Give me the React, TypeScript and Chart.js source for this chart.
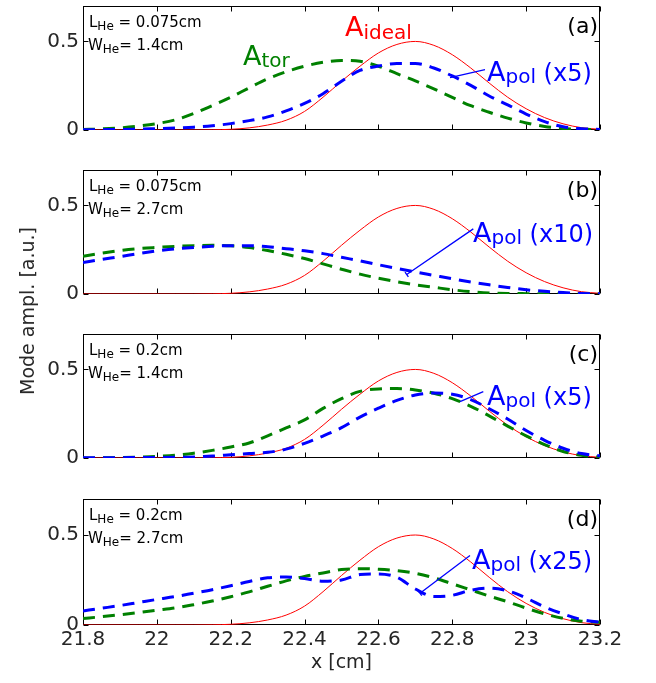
import React, { useEffect, useRef } from 'react';
import { Chart, registerables } from 'chart.js';
Chart.register(...registerables);

// ---------- data ----------
const xs = [21.8, 21.85, 21.9, 21.95, 22, 22.05, 22.1, 22.15, 22.2, 22.25, 22.3, 22.35, 22.4, 22.45, 22.5, 22.55, 22.6, 22.65, 22.7, 22.75, 22.8, 22.85, 22.9, 22.95, 23, 23.05, 23.1, 23.15, 23.2];

const aIdeal = [0, 0, 0, 0, 0, 0, 0, 0.001, 0.004, 0.012, 0.028, 0.055, 0.105, 0.185, 0.275, 0.36, 0.435, 0.483, 0.5, 0.478, 0.425, 0.35, 0.265, 0.185, 0.12, 0.07, 0.035, 0.013, 0.004];

const torA = [0.003, 0.006, 0.012, 0.022, 0.036, 0.057, 0.093, 0.138, 0.185, 0.238, 0.289, 0.329, 0.36, 0.382, 0.393, 0.388, 0.36, 0.318, 0.277, 0.232, 0.184, 0.137, 0.1, 0.067, 0.04, 0.02, 0.009, 0.004, 0.002];
const polA = [0.001, 0.002, 0.003, 0.005, 0.008, 0.011, 0.016, 0.024, 0.036, 0.053, 0.074, 0.108, 0.15, 0.205, 0.275, 0.336, 0.361, 0.375, 0.375, 0.35, 0.305, 0.252, 0.192, 0.142, 0.09, 0.047, 0.018, 0.007, 0.003];

const torB = [0.213, 0.23, 0.245, 0.256, 0.263, 0.269, 0.273, 0.275, 0.272, 0.262, 0.245, 0.224, 0.2, 0.17, 0.14, 0.112, 0.089, 0.069, 0.052, 0.038, 0.024, 0.013, 0.006, 0.003, 0.002, 0.001, 0.001, 0, 0];
const polB = [0.178, 0.195, 0.211, 0.228, 0.243, 0.255, 0.263, 0.269, 0.273, 0.273, 0.267, 0.256, 0.244, 0.228, 0.207, 0.187, 0.165, 0.144, 0.124, 0.105, 0.086, 0.068, 0.052, 0.037, 0.024, 0.015, 0.008, 0.003, 0.001];

const torC = [0, 0.001, 0.002, 0.005, 0.009, 0.016, 0.027, 0.043, 0.062, 0.085, 0.125, 0.17, 0.215, 0.28, 0.335, 0.376, 0.39, 0.392, 0.384, 0.366, 0.335, 0.292, 0.238, 0.18, 0.125, 0.076, 0.037, 0.015, 0.006];
const polC = [0.002, 0.002, 0.002, 0.003, 0.003, 0.004, 0.006, 0.011, 0.018, 0.025, 0.032, 0.05, 0.083, 0.124, 0.171, 0.231, 0.281, 0.325, 0.356, 0.367, 0.36, 0.33, 0.278, 0.22, 0.155, 0.1, 0.055, 0.025, 0.012];

const torD = [0.036, 0.046, 0.057, 0.069, 0.082, 0.095, 0.113, 0.133, 0.157, 0.184, 0.215, 0.245, 0.27, 0.289, 0.308, 0.313, 0.31, 0.302, 0.287, 0.262, 0.229, 0.195, 0.161, 0.129, 0.094, 0.062, 0.037, 0.021, 0.015];
const polD = [0.078, 0.093, 0.108, 0.125, 0.142, 0.158, 0.177, 0.196, 0.218, 0.242, 0.262, 0.267, 0.258, 0.243, 0.25, 0.28, 0.284, 0.265, 0.2, 0.158, 0.165, 0.193, 0.205, 0.19, 0.15, 0.1, 0.062, 0.03, 0.015];

const xTickValues = [21.8, 22, 22.2, 22.4, 22.6, 22.8, 23, 23.2];
const xTickLabels = ['21.8', '22', '22.2', '22.4', '22.6', '22.8', '23', '23.2'];
const yTickValues = [0, 0.5];
const yTickLabels = ['0', '0.5'];

const panelLetters = ['(a)', '(b)', '(c)', '(d)'];
const lengthLabels = ['0.075cm', '0.075cm', '0.2cm', '0.2cm'];
const widthLabels = ['1.4cm', '2.7cm', '1.4cm', '2.7cm'];
const polFactors = ['(x5)', '(x10)', '(x5)', '(x25)'];
const torSeries = [torA, torB, torC, torD];
const polSeries = [polA, polB, polC, polD];

// ---------- layout / style ----------
const FONT = '"DejaVu Sans", sans-serif';
const INK = '#262626';
const RED = '#ff0000';
const GREEN = '#008000';
const BLUE = '#0000ff';

const LAYOUT: any[] = [
  { top: -10, padTop: 14, height: 156, last: false,
    ideal: { x: 262, y: 29.7 }, tor: { x: 160, y: 58.7 }, pol: { x: 404, y: 74.7 }, arrow: [367, 71.7, 402, 63.7], head: false },
  { top: 154, padTop: 14, height: 156, last: false,
    pol: { x: 390, y: 72 }, arrow: [323.7, 104.5, 390.3, 58.9], head: true },
  { top: 318, padTop: 14, height: 156, last: false,
    pol: { x: 404, y: 71 }, arrow: [377, 67.6, 400.3, 57.6], head: false },
  { top: 483, padTop: 14, height: 200, last: true,
    pol: { x: 389, y: 70 }, arrow: [337, 94.2, 387, 56.6], head: true },
];

type Part = { t: string; size: number; dy?: number };

function drawRich(ctx: CanvasRenderingContext2D, x: number, y: number, parts: Part[], color: string) {
  ctx.fillStyle = color;
  ctx.textBaseline = 'alphabetic';
  ctx.textAlign = 'left';
  let cx = x;
  for (const p of parts) {
    ctx.font = `${p.size}px ${FONT}`;
    ctx.fillText(p.t, cx, y + (p.dy || 0));
    cx += ctx.measureText(p.t).width;
  }
}

function makeDecor(i: number) {
  const L0 = LAYOUT[i];
  return {
    id: 'decor' + i,
    beforeDatasetsDraw(chart: any) {
      const { ctx, chartArea: ca, scales } = chart;
      ctx.save();
      ctx.strokeStyle = '#000';
      ctx.lineWidth = 1;
      const L = Math.round(ca.left) + 0.5;
      const R = Math.round(ca.right) - 0.5;
      const T = Math.round(ca.top) + 0.5;
      const B = Math.round(ca.bottom) - 0.5;
      ctx.strokeRect(L, T, R - L, B - T);
      ctx.beginPath();
      for (const v of xTickValues) {
        const px = Math.round(scales.x.getPixelForValue(v)) + 0.5;
        ctx.moveTo(px, T); ctx.lineTo(px, T + 5);
        ctx.moveTo(px, B); ctx.lineTo(px, B - 5);
      }
      for (const v of yTickValues) {
        const py = Math.round(scales.y.getPixelForValue(v)) + 0.5;
        ctx.moveTo(L, py); ctx.lineTo(L + 5, py);
        ctx.moveTo(R, py); ctx.lineTo(R - 5, py);
      }
      ctx.stroke();
      ctx.restore();
    },
    afterDraw(chart: any) {
      const { ctx, chartArea: ca } = chart;
      const ox = ca.left, oy = ca.top;
      ctx.save();
      drawRich(ctx, ox + 6, oy + 20.5, [
        { t: 'L', size: 15 }, { t: 'He', size: 12, dy: 3 }, { t: ' = ' + lengthLabels[i], size: 15 },
      ], '#000');
      drawRich(ctx, ox + 5, oy + 43.5, [
        { t: 'W', size: 15 }, { t: 'He', size: 12, dy: 3 }, { t: '= ' + widthLabels[i], size: 15 },
      ], '#000');
      ctx.font = `22px ${FONT}`;
      ctx.textAlign = 'right';
      ctx.textBaseline = 'alphabetic';
      ctx.fillStyle = '#000';
      ctx.fillText(panelLetters[i], ca.right - 2, oy + 27);
      if (L0.ideal) {
        const p = L0.ideal;
        drawRich(ctx, ox + p.x, oy + p.y, [{ t: 'A', size: 27 }, { t: 'ideal', size: 20, dy: 3 }], RED);
      }
      if (L0.tor) {
        const p = L0.tor;
        drawRich(ctx, ox + p.x, oy + p.y, [{ t: 'A', size: 27 }, { t: 'tor', size: 20, dy: 2 }], GREEN);
      }
      const pp = L0.pol;
      drawRich(ctx, ox + pp.x, oy + pp.y, [
        { t: 'A', size: 27 }, { t: 'pol', size: 20, dy: 2 }, { t: ' ' + polFactors[i], size: 24 },
      ], BLUE);
      const [x1, y1, x2, y2] = L0.arrow;
      ctx.strokeStyle = BLUE;
      ctx.lineWidth = 1.3;
      ctx.beginPath();
      ctx.moveTo(ox + x1, oy + y1);
      ctx.lineTo(ox + x2, oy + y2);
      if (L0.head) {
        const dx = x2 - x1, dy = y2 - y1;
        const len = Math.hypot(dx, dy);
        const nx = -dy / len, ny = dx / len;
        ctx.moveTo(ox + x1 + nx * 3, oy + y1 + ny * 3);
        ctx.lineTo(ox + x1 - nx * 3, oy + y1 - ny * 3);
      }
      ctx.stroke();
      ctx.restore();
    },
  };
}

function makeConfig(i: number): any {
  const L0 = LAYOUT[i];
  const pts = (arr: number[]) => xs.map((x, k) => ({ x, y: arr[k] }));
  const common = { pointRadius: 0, cubicInterpolationMode: 'monotone', fill: false };
  const xScale: any = {
    type: 'linear',
    min: 21.8,
    max: 23.2,
    display: L0.last,
    afterBuildTicks: (s: any) => { s.ticks = xTickValues.map((v) => ({ value: v })); },
    grid: { display: false, drawTicks: false },
    border: { display: false },
    ticks: {
      autoSkip: false,
      maxRotation: 0,
      padding: 3,
      color: INK,
      font: { family: FONT, size: 20 },
      callback: (_v: any, idx: number) => xTickLabels[idx],
    },
    title: {
      display: true,
      text: 'x [cm]',
      color: INK,
      font: { family: FONT, size: 19 },
      padding: { top: 0, bottom: 9 },
    },
  };
  if (L0.last) xScale.afterFit = (s: any) => { s.height = 58; };
  return {
    type: 'line',
    data: {
      datasets: [
        { ...common, data: pts(polSeries[i]), borderColor: BLUE, borderWidth: 3, borderDash: [12, 8], order: 0 },
        { ...common, data: pts(torSeries[i]), borderColor: GREEN, borderWidth: 3, borderDash: [12, 8], order: 1 },
        { ...common, data: pts(aIdeal), borderColor: RED, borderWidth: 1, order: 2 },
      ],
    },
    options: {
      animation: false,
      responsive: false,
      maintainAspectRatio: false,
      devicePixelRatio: 1,
      events: [],
      layout: { padding: { left: 0, right: 56, top: L0.padTop, bottom: L0.last ? 0 : 14 } },
      plugins: { legend: { display: false }, tooltip: { enabled: false } },
      scales: {
        x: xScale,
        y: {
          min: 0,
          max: 0.7,
          afterBuildTicks: (s: any) => { s.ticks = yTickValues.map((v) => ({ value: v })); },
          afterFit: (s: any) => { s.width = 83; },
          grid: { display: false, drawTicks: false },
          border: { display: false },
          ticks: {
            padding: 4,
            color: INK,
            font: { family: FONT, size: 20 },
            callback: (_v: any, idx: number) => yTickLabels[idx],
          },
        },
      },
    },
    plugins: [makeDecor(i)],
  };
}

function Panel({ index }: { index: number }) {
  const ref = useRef<HTMLCanvasElement | null>(null);
  const L0 = LAYOUT[index];
  useEffect(() => {
    if (!ref.current) return;
    const chart = new Chart(ref.current, makeConfig(index));
    return () => chart.destroy();
  }, [index]);
  return (
    <canvas
      ref={ref}
      width={656}
      height={L0.height}
      style={{ position: 'absolute', left: 0, top: L0.top, width: 656, height: L0.height }}
    />
  );
}

export default function App() {
  return (
    <div style={{ position: 'fixed', left: 0, top: 0, width: 656, height: 683, background: '#fff', overflow: 'hidden' }}>
      {LAYOUT.map((_, i) => <Panel key={i} index={i} />)}
      <div
        style={{
          position: 'absolute',
          left: 27,
          top: 311,
          transform: 'translate(-50%, -50%) rotate(-90deg)',
          whiteSpace: 'nowrap',
          fontFamily: FONT,
          fontSize: 19,
          color: INK,
          lineHeight: 'normal',
        }}
      >
        Mode ampl. [a.u.]
      </div>
    </div>
  );
}
